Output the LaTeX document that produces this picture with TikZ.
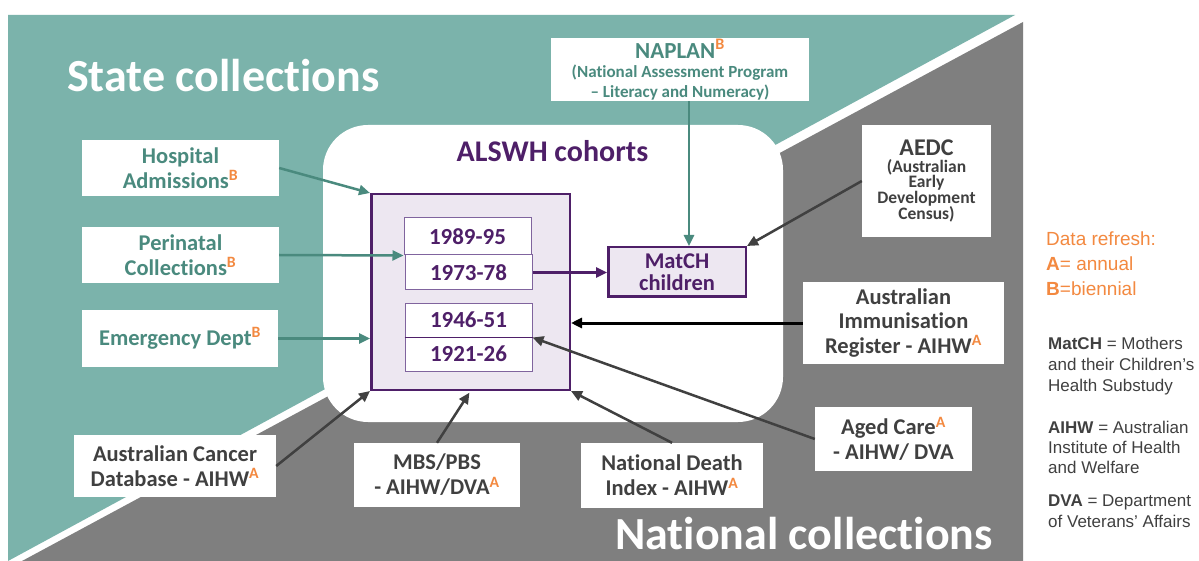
\documentclass[tikz,border=0pt]{standalone}
\usepackage{fontspec}
\setmainfont{Carlito}[Ligatures={NoCommon}]
\newfontfamily\legfont{Liberation Sans}
\usetikzlibrary{arrows.meta,calc}
\definecolor{tealbg}{RGB}{123,179,171}
\definecolor{graybg}{RGB}{127,127,127}
\definecolor{tealtx}{RGB}{74,138,126}
\definecolor{darktx}{RGB}{64,64,64}
\definecolor{purp}{RGB}{78,31,104}
\definecolor{lav}{RGB}{237,231,241}
\definecolor{orng}{RGB}{243,137,64}
\definecolor{inborder}{RGB}{128,100,158}
\newcommand{\supA}{\textsuperscript{\textcolor{orng}{A}}}
\newcommand{\supB}{\textsuperscript{\textcolor{orng}{B}}}
\begin{document}
\begin{tikzpicture}[x=1pt,y=-1pt,
  wbox/.style={fill=white, inner sep=0pt, align=center, font=\fontsize{22.5}{25}\selectfont\bfseries},
  statebox/.style={wbox, text=tealtx},
  natbox/.style={wbox, text=darktx},
  cohort/.style={draw=inborder, line width=1pt, fill=white, text=purp, inner sep=0pt,
    font=\fontsize{23}{25}\selectfont\bfseries, minimum width=127pt},
  tip/.style={-{Triangle[length=11pt,width=10pt]}},
  tarrow/.style={tip, draw=tealtx, line width=2.5pt},
  garrow/.style={tip, draw=darktx, line width=2.5pt},
  karrow/.style={tip, draw=black, line width=3pt},
  parrow/.style={tip, draw=purp, line width=2.5pt},
  bigtext/.style={anchor=base west, text=white, inner sep=0pt, font=\fontsize{46}{50}\selectfont\bfseries},
  legor/.style={anchor=base west, inner sep=0pt, text=orng, font=\legfont\fontsize{19}{22}\selectfont},
  leggr/.style={anchor=base west, inner sep=0pt, text=darktx, font=\legfont\fontsize{17}{20}\selectfont}
]
\useasboundingbox (0,0) rectangle (1199,561);
\fill[white] (0,0) rectangle (1199,561);
% backgrounds
\fill[tealbg] (8,15) -- (1015,15) -- (8,561) -- cycle;
\fill[graybg] (1023,22) -- (1023,561) -- (22,561) -- cycle;
\fill[white, rounded corners=45pt] (323,125) rectangle (783,422);

% titles
\node[bigtext] (state) at (67,92) {State collections};
\node[bigtext] (national) at (615,549) {National collections};
\node[anchor=base, text=purp, inner sep=0pt, font=\fontsize{30}{34}\selectfont\bfseries] (alswh) at (552.5,162) {ALSWH cohorts};

% cohort boxes
\node[draw=purp, line width=2.5pt, fill=lav, minimum width=198.5pt, minimum height=195.5pt, inner sep=0pt] (outer) at (470.5,292) {};
\node[cohort, minimum height=37pt] (c1989) at (467.5,236.5) {1989-95};
\node[cohort, minimum height=35pt] (c1973) at (468.5,272.5) {1973-78};
\node[cohort, minimum height=34pt] (c1946) at (468.5,320) {1946-51};
\node[cohort, minimum height=34pt] (c1921) at (468.5,354) {1921-26};
\draw[purp, line width=1.3pt] (c1946.south west) -- (c1946.south east);
\node[draw=purp, line width=2.5pt, fill=lav, text=purp, align=center, inner sep=0pt,
  minimum width=137.5pt, minimum height=49.5pt, font=\fontsize{22.5}{22}\selectfont\bfseries] (match) at (677,272) {MatCH\\children};

% state boxes
\node[statebox, minimum width=258pt, minimum height=63pt,
  font=\fontsize{17}{19.5}\selectfont\bfseries] (naplan) at (680,69.5)
  {{\fontsize{23}{19.5}\selectfont NAPLAN\supB}\\(National Assessment Program\\– Literacy and Numeracy)};
\node[statebox, minimum width=197pt, minimum height=56pt] (hosp) at (180.5,168) {Hospital\\Admissions\supB};
\node[statebox, minimum width=197pt, minimum height=56pt] (peri) at (180.5,255) {Perinatal\\Collections\supB};
\node[statebox, minimum width=196pt, minimum height=57pt] (emerg) at (180,338.5) {Emergency Dept\supB};

% national boxes
\node[natbox, minimum width=129pt, minimum height=112pt,
  font=\fontsize{17.5}{15.5}\selectfont\bfseries] (aedc) at (926.5,181)
  {{\fontsize{24}{15.5}\selectfont AEDC}\\[1.5pt](Australian\\Early\\Development\\Census)};
\node[natbox, minimum width=201pt, minimum height=82pt, font=\fontsize{22.5}{24.5}\selectfont\bfseries] (immun) at (903.5,323) {Australian\\Immunisation\\Register - AIHW\supA};
\node[natbox, minimum width=157pt, minimum height=64pt] (aged) at (893.5,439) {Aged Care\supA\\- AIHW/ DVA};
\node[natbox, minimum width=182pt, minimum height=65pt] (ndi) at (672,475.5) {National Death\\Index - AIHW\supA};
\node[natbox, minimum width=166pt, minimum height=64pt] (mbs) at (437,475) {MBS/PBS\\- AIHW/DVA\supA};
\node[natbox, minimum width=202pt, minimum height=62pt] (cancer) at (175,466) {Australian Cancer\\Database - AIHW\supA};

% connectors
\coordinate (nx) at (689,0);
\draw[tarrow] (hosp.east) -- (outer.north west);
\draw[tarrow] (peri.east) -- (c1989.south west);
\draw[tarrow] (emerg.east) -- (emerg.east -| outer.west);
\draw[tarrow] (naplan.south -| nx) -- (match.north -| nx);
\draw[garrow] (aedc.west) -- (match.north east);
\draw[parrow] (c1973.east) -- (match.west |- c1973.east);
\draw[karrow] (immun.west) -- (immun.west -| outer.east);
\draw[garrow] (aged.west) -- (c1946.south east);
\draw[garrow] (ndi.north) -- (outer.south east);
\draw[garrow, shorten >=2pt] (mbs.north) -- (outer.south);
\draw[garrow] (cancer.east) -- (outer.south west);

% legend
\node[legor] (l1) at (1046,246) {Data refresh:};
\node[legor] (l2) at (1046,271) {\textbf{A}= annual};
\node[legor] (l3) at (1046,296) {\textbf{B}=biennial};
\node[leggr] (m1) at (1048,349) {\textbf{MatCH} = Mothers};
\node[leggr] (m2) at (1048,370) {and their Children’s};
\node[leggr] (m3) at (1048,391) {Health Substudy};
\node[leggr] (a1) at (1048,433) {\textbf{AIHW} = Australian};
\node[leggr] (a2) at (1048,453) {Institute of Health};
\node[leggr] (a3) at (1048,473) {and Welfare};
\node[leggr] (d1) at (1048,506) {\textbf{DVA} = Department};
\node[leggr] (d2) at (1048,527) {of Veterans’ Affairs};
\end{tikzpicture}
\end{document}
